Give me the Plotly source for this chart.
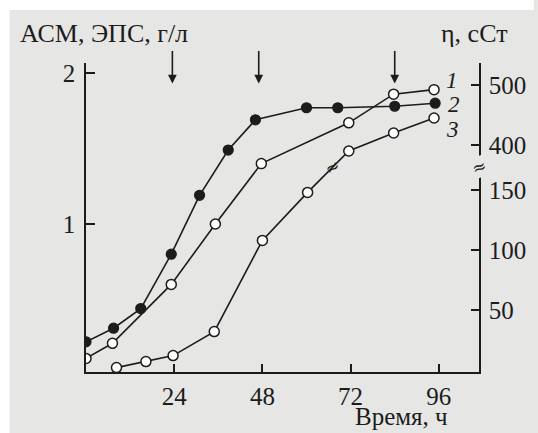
import plotly.graph_objects as go

# ---- data ----
time_1 = [0, 7.2, 23.2, 35.2, 47.7, 71.5, 83.7, 94.7]
conc_1 = [0.11, 0.21, 0.60, 1.00, 1.40, 1.67, 1.86, 1.89]

time_2 = [0, 7.5, 14.9, 23.2, 30.9, 38.7, 46.1, 60.0, 68.5, 84.0, 95.0]
conc_2 = [0.22, 0.31, 0.44, 0.80, 1.19, 1.49, 1.69, 1.77, 1.77, 1.78, 1.80]

time_3 = [8.3, 16.3, 23.7, 34.9, 48.0, 60.3, 71.5, 83.7, 94.7]
eta_3 = [2, 7, 12, 32, 108, 148, 390, 420, 445]   # viscosity, cSt (broken right axis)

x_ticks = [24, 48, 72, 96]
left_ticks = [1, 2]
right_tick_values = [50, 100, 150, 400, 500]
arrow_times = [23.5, 47, 84]
curve_labels = ["1", "2", "3"]

# ---- broken-axis scale for the viscosity axis ----
BREAK_LOW, BREAK_HIGH, BREAK_POS, UPPER_SCALE = 170, 400, 187.5, 0.5


def eta_scale(v):
    if v <= BREAK_LOW:
        return v
    return BREAK_POS + (v - BREAK_HIGH) * UPPER_SCALE


BG = "#e6e6e4"
INK = "#1c1c1c"
FONT = "Liberation Serif"
TICK_FONT = dict(family=FONT, size=25, color=INK)

fig = go.Figure()

line_style = dict(color=INK, width=1.6)
open_marker = dict(size=10, color="white", line=dict(color=INK, width=1.5))
filled_marker = dict(size=10, color=INK, line=dict(color=INK, width=1.2))

fig.add_trace(go.Scatter(x=time_1, y=conc_1, mode="lines+markers",
                         line=line_style, marker=open_marker, yaxis="y"))
fig.add_trace(go.Scatter(x=time_2, y=conc_2, mode="lines+markers",
                         line=line_style, marker=filled_marker, yaxis="y"))
fig.add_trace(go.Scatter(x=time_3, y=[eta_scale(v) for v in eta_3], mode="lines+markers",
                         line=line_style, marker=open_marker, yaxis="y2"))

W, H = 538, 433
L, R, T, B = 86, 51, 63, 61
pw, ph = W - L - R, H - T - B


def px_to_paper(px, py):
    return (px - L) / pw, (H - B - py) / ph


annotations = []
# axis titles
for text, (px, py), anchor, size in [("АСМ, ЭПС, г/л", (17, 33), "left", 26),
                                     ("η, сСт", (446, 33), "left", 26),
                                     ("Время, ч", (408, 416), "center", 25)]:
    xp, yp = px_to_paper(px, py)
    annotations.append(dict(text=text, x=xp, y=yp, xref="paper", yref="paper",
                            xanchor=anchor, yanchor="middle", showarrow=False,
                            font=dict(family=FONT, size=size, color=INK)))

# arrows marking times
for t in arrow_times:
    annotations.append(dict(x=t, y=1.93, xref="x", yref="y", text="", showarrow=True,
                            ax=0, ay=-34, arrowhead=2, arrowsize=1.1, arrowwidth=1.6,
                            arrowcolor=INK))

# curve labels
label_pos = [(99.6, 1.95), (100.0, 1.79), (99.6, 1.625)]
for lab, (lx, ly) in zip(curve_labels, label_pos):
    annotations.append(dict(text=f"<i>{lab}</i>", x=lx, y=ly, xref="x", yref="y",
                            showarrow=False, xanchor="center", yanchor="middle",
                            font=dict(family=FONT, size=23, color=INK)))

# break marks
annotations.append(dict(text="≈", x=67.0, y=169, xref="x", yref="y2", showarrow=False,
                        xanchor="center", yanchor="middle",
                        font=dict(family="DejaVu Serif", size=17, color=INK), textangle=-35))
annotations.append(dict(text="≈", x=1.0, y=169, xref="paper", yref="y2", showarrow=False,
                        xanchor="center", yanchor="middle",
                        bgcolor=BG, borderpad=0, textangle=-20,
                        font=dict(family="DejaVu Serif", size=17, color=INK)))

fig.update_layout(
    width=W, height=H,
    margin=dict(l=L, r=R, t=T, b=B, pad=0),
    paper_bgcolor=BG,
    plot_bgcolor=BG,
    showlegend=False,
    hovermode=False,
    font=dict(family=FONT, size=25, color=INK),
    xaxis=dict(range=[0, pw / 3.75], tickvals=x_ticks, ticks="inside", ticklen=8,
               tickwidth=1.5, tickcolor=INK, showline=True, linecolor=INK, linewidth=1.6,
               showgrid=False, zeroline=False, ticklabelstandoff=1, tickfont=TICK_FONT),
    yaxis=dict(range=[0.02, 0.02 + ph / 151], tickvals=left_ticks, ticks="inside", ticklen=9,
               tickwidth=1.5, tickcolor=INK, showline=True, linecolor=INK, linewidth=1.6,
               showgrid=False, zeroline=False, ticklabelstandoff=4, tickfont=TICK_FONT),
    yaxis2=dict(range=[-1.67, -1.67 + ph / 1.2], overlaying="y", side="right", anchor="x",
                tickvals=[eta_scale(v) for v in right_tick_values],
                ticktext=[str(v) for v in right_tick_values],
                ticks="inside", ticklen=8, tickwidth=1.5, tickcolor=INK,
                showline=True, linecolor=INK, linewidth=1.6, showgrid=False, zeroline=False,
                ticklabelstandoff=3, tickfont=TICK_FONT),
    annotations=annotations,
    shapes=[
        # white scan border at top and left
        dict(type="rect", xref="paper", yref="paper", layer="above",
             x0=px_to_paper(-5, 0)[0], x1=px_to_paper(W + 5, 0)[0],
             y0=px_to_paper(0, 10)[1], y1=px_to_paper(0, -5)[1],
             fillcolor="white", line=dict(width=0)),
        dict(type="rect", xref="paper", yref="paper", layer="above",
             x0=px_to_paper(-5, 0)[0], x1=px_to_paper(8, 0)[0],
             y0=px_to_paper(0, H + 5)[1], y1=px_to_paper(0, -5)[1],
             fillcolor="white", line=dict(width=0)),
    ],
)

fig.write_html("out.html", config={"displayModeBar": False})
